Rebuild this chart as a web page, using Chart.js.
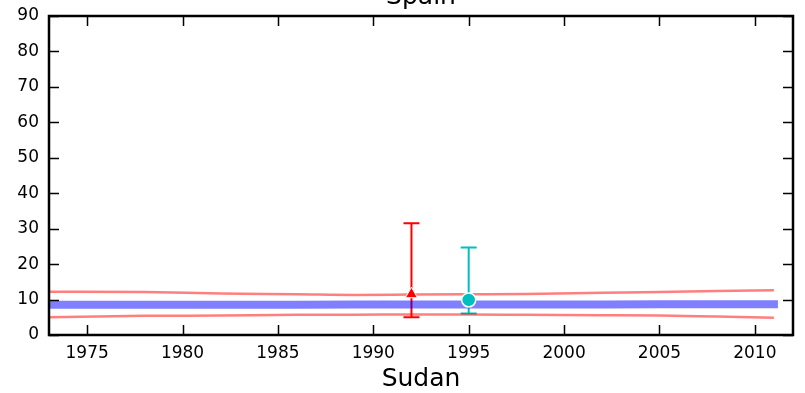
<!DOCTYPE html>
<html>
<head>
<meta charset="utf-8">
<script src="https://cdn.jsdelivr.net/npm/chart.js@4/dist/chart.umd.min.js"></script>
<style>
  html, body { margin: 0; padding: 0; background: #ffffff; }
  #wrap { width: 805px; height: 393px; }
</style>
</head>
<body>
<div id="wrap"><canvas id="myChart" width="805" height="393"></canvas></div>
<script>
// Chart data
const years = [1973, 1978, 1982, 1986, 1989, 1992, 1995, 1998, 2002, 2005, 2008, 2011];
const upperBand = [12.2, 12.1, 11.7, 11.5, 11.3, 11.4, 11.5, 11.6, 11.9, 12.1, 12.4, 12.6];
const lowerBand = [5.0, 5.4, 5.5, 5.7, 5.7, 5.8, 5.8, 5.7, 5.6, 5.5, 5.2, 4.9];
const midLine = [8.5, 8.5, 8.5, 8.5, 8.6, 8.6, 8.6, 8.6, 8.6, 8.7, 8.7, 8.7];

const redYear = [1992];
const redValue = [11.5];
const redLow = [5.0];
const redHigh = [31.5];

const cyanYear = [1995];
const cyanValue = [9.9];
const cyanLow = [6.1];
const cyanHigh = [24.7];

const xTicks = [1975, 1980, 1985, 1990, 1995, 2000, 2005, 2010];
const yTicks = [0, 10, 20, 30, 40, 50, 60, 70, 80, 90];

const titleText = 'Spain';
const xLabelText = 'Sudan';

function toPoints(xs, ys) {
  return xs.map((x, i) => ({ x: x, y: ys[i] }));
}

// error bars, frame, inward ticks and the two texts
const decorPlugin = {
  id: 'decor',
  beforeDatasetsDraw(chart) {
    const ctx = chart.ctx;
    const xs = chart.scales.x;
    const ys = chart.scales.y;
    const bars = [
      { xv: redYear, lo: redLow, hi: redHigh, color: '#ff0000' },
      { xv: cyanYear, lo: cyanLow, hi: cyanHigh, color: '#00bfbf' }
    ];
    ctx.save();
    bars.forEach(b => {
      b.xv.forEach((xv, i) => {
        const px = xs.getPixelForValue(xv);
        const pLo = ys.getPixelForValue(b.lo[i]);
        const pHi = ys.getPixelForValue(b.hi[i]);
        ctx.strokeStyle = b.color;
        ctx.lineWidth = 2;
        ctx.beginPath();
        ctx.moveTo(px, pLo);
        ctx.lineTo(px, pHi);
        ctx.moveTo(px - 8, pLo);
        ctx.lineTo(px + 8, pLo);
        ctx.moveTo(px - 8, pHi);
        ctx.lineTo(px + 8, pHi);
        ctx.stroke();
      });
    });
    ctx.restore();
  },
  afterDraw(chart) {
    const ctx = chart.ctx;
    const a = chart.chartArea;
    const xs = chart.scales.x;
    const ys = chart.scales.y;
    ctx.save();
    // inward ticks
    ctx.strokeStyle = '#000000';
    ctx.lineWidth = 1.5;
    ctx.beginPath();
    xTicks.forEach(v => {
      const px = Math.round(xs.getPixelForValue(v)) + 0.5;
      ctx.moveTo(px, a.bottom);
      ctx.lineTo(px, a.bottom - 10);
      ctx.moveTo(px, a.top);
      ctx.lineTo(px, a.top + 10);
    });
    yTicks.forEach(v => {
      const py = Math.round(ys.getPixelForValue(v)) + 0.5;
      ctx.moveTo(a.left, py);
      ctx.lineTo(a.left + 10, py);
      ctx.moveTo(a.right, py);
      ctx.lineTo(a.right - 10, py);
    });
    ctx.stroke();
    // frame
    ctx.lineWidth = 2.5;
    ctx.strokeRect(a.left, a.top, a.right - a.left, a.bottom - a.top);
    // texts
    ctx.fillStyle = '#000000';
    ctx.textAlign = 'center';
    ctx.textBaseline = 'alphabetic';
    ctx.font = '25px "DejaVu Sans"';
    const cx = (a.left + a.right) / 2;
    ctx.fillText(titleText, cx, 4);
    ctx.fillText(xLabelText, cx, 386);
    ctx.restore();
  }
};

const canvas = document.getElementById('myChart');
const ctx = canvas.getContext('2d');

var chartData = {
  datasets: [{
    label: 'red',
    data: toPoints(redYear, redValue),
    showLine: false,
    pointStyle: 'triangle',
    pointRadius: 7,
    backgroundColor: '#ff0000',
    borderColor: '#ffffff',
    borderWidth: 1,
    order: 0
  }, {
    label: 'cyan',
    data: toPoints(cyanYear, cyanValue),
    showLine: false,
    pointStyle: 'circle',
    pointRadius: 7,
    backgroundColor: '#00bfbf',
    borderColor: '#ffffff',
    borderWidth: 1.5,
    order: 0
  }, {
    label: 'mid',
    data: toPoints(years, midLine),
    showLine: true,
    borderColor: 'rgba(0, 0, 255, 0.5)',
    borderWidth: 8,
    borderCapStyle: 'square',
    pointRadius: 0,
    fill: false,
    order: 1
  }, {
    label: 'upper',
    data: toPoints(years, upperBand),
    showLine: true,
    borderColor: 'rgba(255, 0, 0, 0.5)',
    borderWidth: 2.5,
    cubicInterpolationMode: 'monotone',
    pointRadius: 0,
    fill: false,
    order: 2
  }, {
    label: 'lower',
    data: toPoints(years, lowerBand),
    showLine: true,
    borderColor: 'rgba(255, 0, 0, 0.5)',
    borderWidth: 2.5,
    cubicInterpolationMode: 'monotone',
    pointRadius: 0,
    fill: false,
    order: 2
  }]
};

var chartOptions = {
  responsive: false,
  animation: false,
  layout: { padding: { top: 16, right: 12, left: 0, bottom: 0 } },
  plugins: {
    legend: { display: false },
    title: { display: false },
    tooltip: { enabled: false }
  },
  scales: {
    x: {
      type: 'linear',
      min: 1973,
      max: 2012,
      afterFit: s => { s.height = 58; s.paddingLeft = 0; s.paddingRight = 0; },
      afterBuildTicks: s => { s.ticks = xTicks.map(v => ({ value: v })); },
      grid: { display: false, drawTicks: false },
      border: { display: false },
      ticks: {
        color: '#000000',
        padding: 8,
        maxRotation: 0,
        autoSkip: false,
        font: { family: 'DejaVu Sans', size: 17 },
        callback: v => String(v)
      }
    },
    y: {
      type: 'linear',
      min: 0,
      max: 90,
      afterFit: s => { s.width = 49; s.paddingTop = 0; s.paddingBottom = 0; },
      afterBuildTicks: s => { s.ticks = yTicks.map(v => ({ value: v })); },
      grid: { display: false, drawTicks: false },
      border: { display: false },
      ticks: {
        color: '#000000',
        padding: 10,
        autoSkip: false,
        font: { family: 'DejaVu Sans', size: 17 }
      }
    }
  }
};

// Create the chart
var myChart = new Chart(ctx, {
  type: 'scatter',
  data: chartData,
  options: chartOptions,
  plugins: [decorPlugin]
});
</script>
</body>
</html>
